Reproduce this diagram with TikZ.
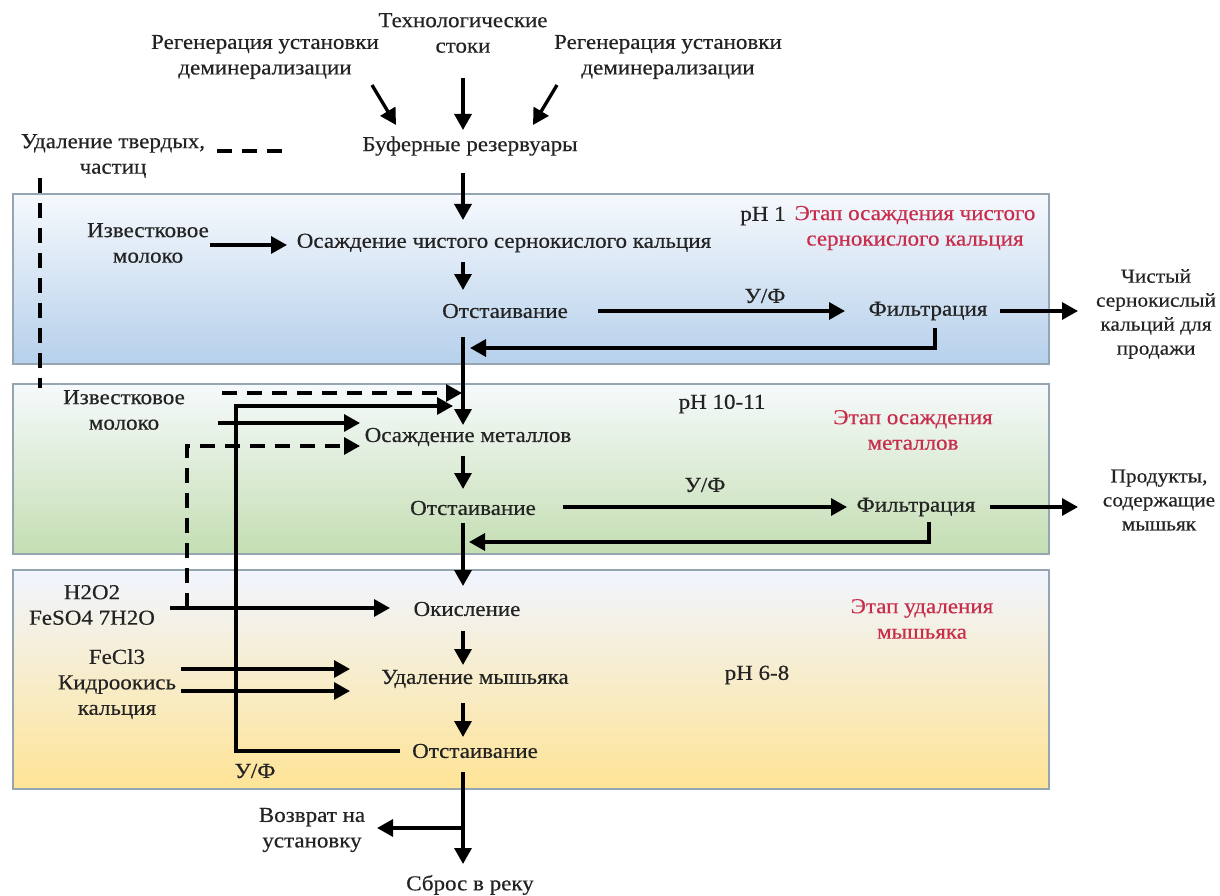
\documentclass[tikz,border=0pt]{standalone}
\usepackage{fontspec}
\setmainfont{Liberation Serif}[FakeStretch=1.08,FakeBold=0.4]
\usetikzlibrary{arrows.meta}
\definecolor{stagered}{RGB}{200,45,75}
\definecolor{boxgray}{RGB}{150,165,178}
\definecolor{blueT}{RGB}{246,249,253}
\definecolor{blueB}{RGB}{182,208,235}
\definecolor{greenT}{RGB}{246,250,252}
\definecolor{greenB}{RGB}{196,222,178}
\definecolor{yelT}{RGB}{240,245,255}
\definecolor{yelB}{RGB}{255,228,150}
\definecolor{txt}{RGB}{35,35,35}
\tikzset{
  lbl/.style={inner sep=0pt, align=center, text=txt, font=\fontsize{21.3}{25.5}\selectfont},
  sidelbl/.style={lbl, font=\fontsize{19.8}{24}\selectfont},
  stagelbl/.style={lbl, text=stagered},
  flow/.style={line width=3.3pt, -{Triangle[length=16pt,width=17pt]}},
  dflow/.style={flow, dash pattern=on 15pt off 10pt},
  dline/.style={line width=3.3pt, dash pattern=on 15pt off 10pt},
  stagebox/.style={draw=boxgray, line width=1.8pt, anchor=north west, inner sep=0pt, minimum width=1036pt}
}
\begin{document}
\begin{tikzpicture}[x=1pt,y=-1pt]
\useasboundingbox (0,0) rectangle (1220,896);
% stage boxes
\node[stagebox, minimum height=170pt, top color=blueT, bottom color=blueB] (box1) at (12,193) {};
\node[stagebox, minimum height=170pt, top color=greenT, bottom color=greenB] (box2) at (12,383) {};
\node[stagebox, minimum height=219pt, top color=yelT, bottom color=yelB] (box3) at (12,569) {};

% top labels
\node[lbl] (tech) at (463,33) {Технологические\\стоки};
\node[lbl] (regL) at (265,57) {Регенерация установки\\деминерализации};
\node[lbl] (regR) at (668,57) {Регенерация установки\\деминерализации};
\node[lbl] (buf) at (470,146) {Буферные резервуары};
\node[lbl] (solids) at (113,156) {Удаление твердых,\\частиц};

% stage 1
\node[lbl] (lime1) at (148,243) {Известковое\\молоко};
\node[lbl] (prec1) at (504,243) {Осаждение чистого сернокислого кальция};
\node[lbl] (settle1) at (505,311) {Отстаивание};
\node[lbl] (filt1) at (928,311) {Фильтрация};
\node[sidelbl] (prod1) at (1156,314) {Чистый\\сернокислый\\кальций для\\продажи};
\node[lbl] (ph1) at (763,216) {pH 1};
\node[stagelbl] (stage1) at (915,228) {Этап осаждения чистого\\сернокислого кальция};
\node[lbl] (uf1) at (765,296) {У/Ф};

% stage 2
\node[lbl] (lime2) at (124,410) {Известковое\\молоко};
\node[lbl] (prec2) at (468,437) {Осаждение металлов};
\node[lbl] (settle2) at (473,508) {Отстаивание};
\node[lbl] (filt2) at (916,507) {Фильтрация};
\node[sidelbl] (prod2) at (1159,500) {Продукты,\\содержащие\\мышьяк};
\node[lbl] (ph2) at (722,404) {pH 10-11};
\node[stagelbl] (stage2) at (913,430) {Этап осаждения\\металлов};
\node[lbl] (uf2) at (705,485) {У/Ф};

% stage 3
\node[lbl] (chem1) at (92,605) {H2O2\\FeSO4 7H2O};
\node[lbl] (ox) at (467,609) {Окисление};
\node[lbl] (chem2) at (117,684) {FeCl3\\Кидроокись\\кальция};
\node[lbl] (asrem) at (475,679) {Удаление мышьяка};
\node[lbl] (settle3) at (475,751) {Отстаивание};
\node[lbl] (ph3) at (757,675) {pH 6-8};
\node[stagelbl] (stage3) at (922,619) {Этап удаления\\мышьяка};
\node[lbl] (uf3) at (255,771) {У/Ф};
\node[lbl] (ret) at (312,830) {Возврат на\\установку};
\node[lbl] (river) at (470,885) {Сброс в реку};

% connector end points
\coordinate (regLs) at (372,85);  \coordinate (regLe) at (396,125);
\coordinate (techs) at (463,78);  \coordinate (teche) at (463,130);
\coordinate (regRs) at (557,85);  \coordinate (regRe) at (533,125);
\coordinate (solA) at (217,151);  \coordinate (solB) at (291,151);
\coordinate (solC) at (40,178);   \coordinate (solD) at (40,388);
\coordinate (bufs) at (463,173);  \coordinate (p1in) at (463,220);
\coordinate (l1s) at (210,245);   \coordinate (l1e) at (287,245);
\coordinate (p1s) at (463,262);   \coordinate (s1in) at (463,290);
\coordinate (s1r) at (598,311);   \coordinate (f1l) at (845,311);
\coordinate (f1r) at (1000,311);  \coordinate (pr1l) at (1078,311);
\coordinate (f1b) at (935,328);   \coordinate (f1c) at (935,348); \coordinate (r1e) at (470,348);
\coordinate (s1b) at (463,337);   \coordinate (p2in) at (463,425);
\coordinate (dA) at (222,393);    \coordinate (dB) at (462,393);
\coordinate (l2s) at (218,423);   \coordinate (l2e) at (360,423);
\coordinate (jn) at (187,608);    \coordinate (dC) at (187,446); \coordinate (dD) at (360,446);
\coordinate (p2s) at (463,456);   \coordinate (s2in) at (463,489);
\coordinate (s2r) at (563,507);   \coordinate (f2l) at (847,507);
\coordinate (f2r) at (990,507);   \coordinate (pr2l) at (1078,507);
\coordinate (f2b) at (929,522);   \coordinate (f2c) at (929,542); \coordinate (r2e) at (469,542);
\coordinate (s2b) at (463,523);   \coordinate (oxin) at (463,586);
\coordinate (c1s) at (170,608);   \coordinate (c1e) at (390,608);
\coordinate (oxs) at (463,631);   \coordinate (arin) at (463,665);
\coordinate (c2s) at (181,669);   \coordinate (c2e) at (350,669);
\coordinate (c3s) at (181,691);   \coordinate (c3e) at (350,691);
\coordinate (ars) at (463,703);   \coordinate (s3in) at (463,737);
\coordinate (s3l) at (400,751);   \coordinate (rcA) at (236,751); \coordinate (rcB) at (236,406); \coordinate (rcE) at (453,406);
\coordinate (s3b) at (463,772);   \coordinate (rvin) at (463,864);
\coordinate (brn) at (463,828);   \coordinate (rtin) at (377,828);

% connectors
\draw[flow] (regLs) -- (regLe);
\draw[flow] (techs) -- (teche);
\draw[flow] (regRs) -- (regRe);
\draw[dline] (solA) -- (solB);
\draw[dline] (solC) -- (solD);
\draw[flow] (bufs) -- (p1in);
\draw[flow] (l1s) -- (l1e);
\draw[flow] (p1s) -- (s1in);
\draw[flow] (s1r) -- (f1l);
\draw[flow] (f1r) -- (pr1l);
\draw[flow] (f1b) -- (f1c) -- (r1e);
\draw[flow] (s1b) -- (p2in);
\draw[dflow] (dA) -- (dB);
\draw[flow] (l2s) -- (l2e);
\draw[dflow] (jn) -- (dC) -- (dD);
\draw[flow] (p2s) -- (s2in);
\draw[flow] (s2r) -- (f2l);
\draw[flow] (f2r) -- (pr2l);
\draw[flow] (f2b) -- (f2c) -- (r2e);
\draw[flow] (s2b) -- (oxin);
\draw[flow] (c1s) -- (c1e);
\draw[flow] (oxs) -- (arin);
\draw[flow] (c2s) -- (c2e);
\draw[flow] (c3s) -- (c3e);
\draw[flow] (ars) -- (s3in);
\draw[flow] (s3l) -- (rcA) -- (rcB) -- (rcE);
\draw[flow] (s3b) -- (rvin);
\draw[flow] (brn) -- (rtin);
\end{tikzpicture}
\end{document}
